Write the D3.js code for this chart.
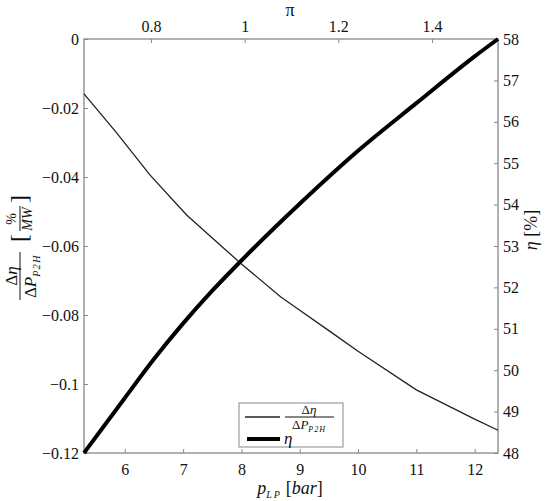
<!DOCTYPE html>
<html><head><meta charset="utf-8">
<script src="https://cdn.jsdelivr.net/npm/d3@7"></script>
</head><body style="margin:0;background:#fff"><svg id="c" width="550" height="501" style="display:block"></svg>
<script>
// data
const pLP = [5.3, 5.86, 6.43, 7.06, 7.5, 8.0, 8.67, 9.0, 9.53, 10.0, 11.0, 12.0, 12.4];
const dEta = [-0.0159, -0.0272, -0.0394, -0.0510, -0.0577, -0.0652, -0.0747, -0.0786, -0.0849, -0.0905, -0.1017, -0.1102, -0.1134];
const pEta = [5.3, 6.0, 6.5, 7.0, 7.5, 8.0, 9.0, 10.0, 11.0, 12.0, 12.4];
const eta = [48.0, 49.33, 50.27, 51.13, 51.92, 52.65, 54.02, 55.3, 56.45, 57.58, 58.0];
const xTicks = [6, 7, 8, 9, 10, 11, 12];
const piTicks = [0.8, 1, 1.2, 1.4];
const leftTicks = [0, -0.02, -0.04, -0.06, -0.08, -0.1, -0.12];
const rightTicks = [48, 49, 50, 51, 52, 53, 54, 55, 56, 57, 58];

const svg = d3.select("#c");
const L = 84, R = 498, T = 39, B = 453;
const x = d3.scaleLinear().domain([5.3, 12.4]).range([L, R]);
const xPi = d3.scaleLinear().domain([0.657, 1.541]).range([L, R]);
const yL = d3.scaleLinear().domain([-0.12, 0]).range([B, T]);
const yR = d3.scaleLinear().domain([48, 58]).range([B, T]);
const fmt = d => (d < 0 ? "\u2212" : "") + String(Math.abs(d));
const axColor = "#888";

function styleAxis(g) {
  g.attr("font-family", null).attr("font-size", null);
  g.select(".domain").remove();
  g.selectAll(".tick line").attr("stroke", axColor).attr("stroke-width", 1);
  g.selectAll(".tick text").attr("fill", "#111").attr("font-size", 16);
}
// frame
svg.append("rect").attr("x", L).attr("y", T).attr("width", R - L).attr("height", B - T)
  .attr("fill", "none").attr("stroke", axColor).attr("stroke-width", 1.3);

svg.append("g").attr("transform", `translate(0,${B})`)
  .call(d3.axisBottom(x).tickValues(xTicks).tickSize(-4).tickPadding(11).tickFormat(d => d))
  .call(styleAxis);
svg.append("g").attr("transform", `translate(0,${T})`)
  .call(d3.axisTop(xPi).tickValues(piTicks).tickSize(-4).tickPadding(7).tickFormat(d => d))
  .call(styleAxis);
svg.append("g").attr("transform", `translate(${L},0)`)
  .call(d3.axisLeft(yL).tickValues(leftTicks).tickSize(-4).tickPadding(5).tickFormat(fmt))
  .call(styleAxis);
svg.append("g").attr("transform", `translate(${R},0)`)
  .call(d3.axisRight(yR).tickValues(rightTicks).tickSize(-4).tickPadding(5).tickFormat(d => d))
  .call(styleAxis);

// lines
const thin = pLP.map((p, i) => [p, dEta[i]]);
const thick = pEta.map((p, i) => [p, eta[i]]);
svg.append("path").datum(thin).attr("fill", "none").attr("stroke", "#222").attr("stroke-width", 1.3)
  .attr("d", d3.line().x(d => x(d[0])).y(d => yL(d[1])));
svg.append("path").datum(thick).attr("fill", "none").attr("stroke", "#000").attr("stroke-width", 4)
  .attr("d", d3.line().curve(d3.curveMonotoneX).x(d => x(d[0])).y(d => yR(d[1])));

// axis titles
const bt = svg.append("text").attr("x", 290).attr("y", 494).attr("text-anchor", "middle").attr("font-size", 18).attr("fill", "#111");
bt.append("tspan").attr("font-style", "italic").text("p");
bt.append("tspan").attr("dy", 4).attr("font-size", 10).attr("font-style", "italic").attr("letter-spacing", 2).text("LP");
bt.append("tspan").attr("dy", -4).attr("dx", 4).text("[");
bt.append("tspan").attr("font-style", "italic").text("bar");
bt.append("tspan").text("]");

svg.append("text").attr("x", 290).attr("y", 16).attr("text-anchor", "middle").attr("font-size", 18).attr("fill", "#111").text("\u03c0");

const rt = svg.append("text").attr("transform", "translate(537,230) rotate(-90)").attr("text-anchor", "middle").attr("font-size", 18).attr("fill", "#111");
rt.append("tspan").attr("font-style", "italic").text("\u03b7");
rt.append("tspan").text(" [%]");

// left label (rotated)
const lg = svg.append("g").attr("transform", "translate(20,248) rotate(-90)").attr("fill", "#111");
function frac(g, cx, num, den, fs) {
  const n = g.append("text").attr("x", cx).attr("y", -3).attr("text-anchor", "middle").attr("font-size", fs);
  num(n);
  g.append("line").attr("x1", cx - 24).attr("x2", cx + 24).attr("y1", 0).attr("y2", 0).attr("stroke", "#111").attr("stroke-width", 1);
  const d = g.append("text").attr("x", cx).attr("y", fs - 1).attr("text-anchor", "middle").attr("font-size", fs);
  den(d);
}
const numEta = t => { t.append("tspan").text("\u0394"); t.append("tspan").attr("font-style", "italic").text("\u03b7"); };
const denP = t => {
  t.append("tspan").text("\u0394");
  t.append("tspan").attr("font-style", "italic").text("P");
  t.append("tspan").attr("dy", 4).attr("font-size", 10).attr("font-style", "italic").attr("letter-spacing", 1.5).text("P2H");
};
frac(lg, -28, numEta, denP, 17);
lg.append("text").attr("x", 6).attr("y", 7).attr("font-size", 24).text("[");
lg.append("text").attr("x", 45).attr("y", 7).attr("font-size", 24).text("]");
const g2 = lg.append("g");
g2.append("text").attr("x", 29).attr("y", -4).attr("text-anchor", "middle").attr("font-size", 14).text("%");
g2.append("line").attr("x1", 17).attr("x2", 42).attr("y1", 0).attr("y2", 0).attr("stroke", "#111");
g2.append("text").attr("x", 29).attr("y", 12).attr("text-anchor", "middle").attr("font-size", 14).attr("font-style", "italic").text("MW");

// legend
svg.append("rect").attr("x", 239).attr("y", 403).attr("width", 104).attr("height", 44)
  .attr("fill", "#fff").attr("stroke", axColor).attr("stroke-width", 1);
svg.append("line").attr("x1", 245).attr("x2", 280).attr("y1", 417).attr("y2", 417).attr("stroke", "#222").attr("stroke-width", 1.3);
svg.append("line").attr("x1", 247).attr("x2", 280).attr("y1", 439).attr("y2", 439).attr("stroke", "#000").attr("stroke-width", 4);
const lgF = svg.append("g").attr("transform", "translate(0,417)").attr("fill", "#111");
const ln = lgF.append("text").attr("x", 309).attr("y", -3).attr("text-anchor", "middle").attr("font-size", 13);
numEta(ln);
lgF.append("line").attr("x1", 285).attr("x2", 334).attr("y1", 0).attr("y2", 0).attr("stroke", "#111");
const ld = lgF.append("text").attr("x", 309).attr("y", 12).attr("text-anchor", "middle").attr("font-size", 13);
ld.append("tspan").text("\u0394");
ld.append("tspan").attr("font-style", "italic").text("P");
ld.append("tspan").attr("dy", 3).attr("font-size", 8).attr("font-style", "italic").attr("letter-spacing", 1).text("P2H");
svg.append("text").attr("x", 284).attr("y", 444).attr("font-size", 17).attr("font-style", "italic").attr("fill", "#111").text("\u03b7");

// font on every text element directly
svg.selectAll("text").attr("font-family", '"Liberation Serif"').style("font-family", "'Liberation Serif'");
</script></body></html>
